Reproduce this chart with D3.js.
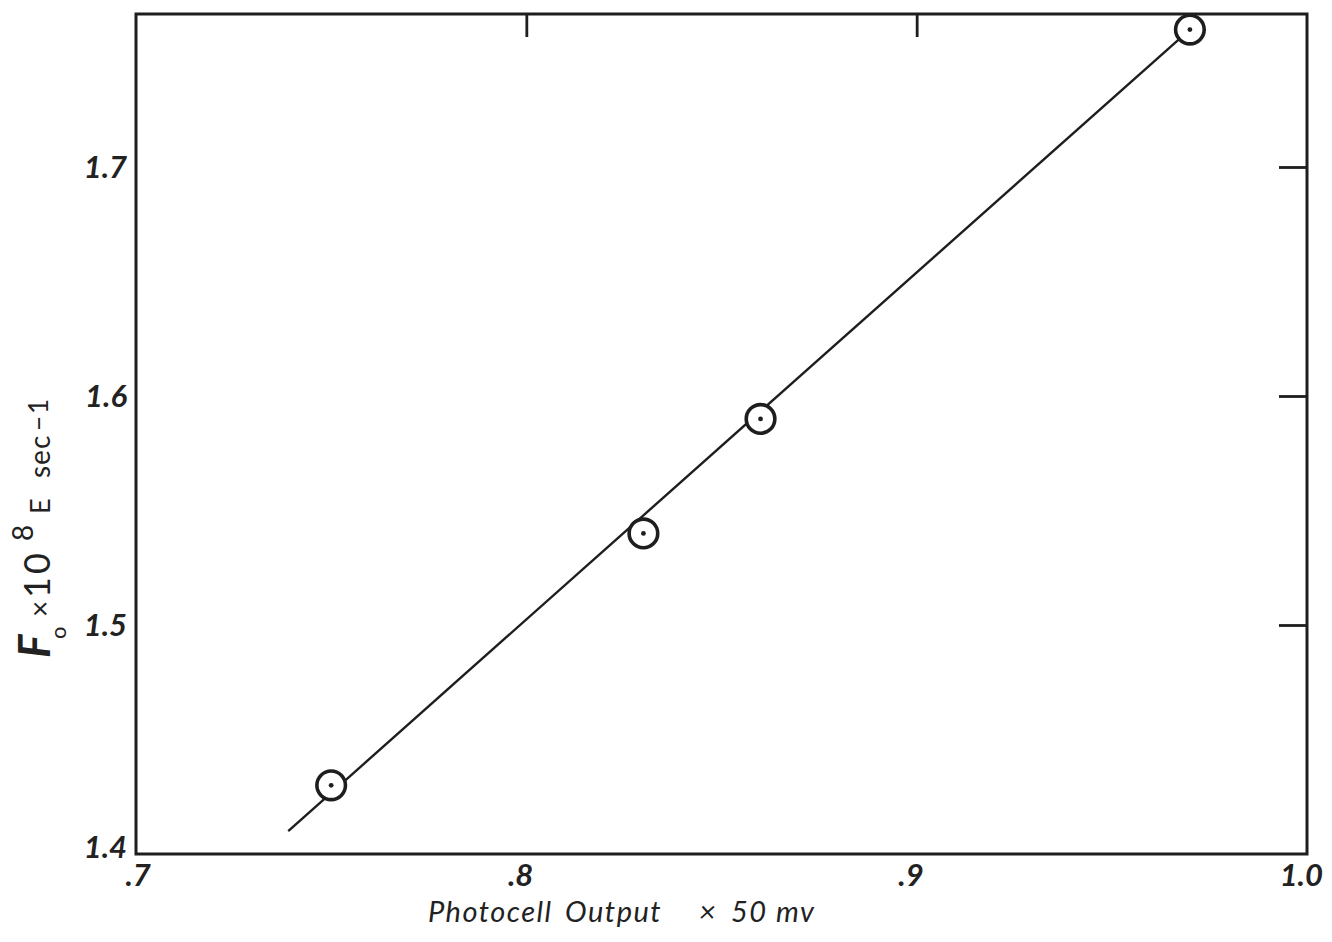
<!DOCTYPE html>
<html>
<head>
<meta charset="utf-8">
<script src="https://cdn.jsdelivr.net/npm/d3@7"></script>
<style>
  html, body { margin: 0; padding: 0; background: #ffffff; }
  svg { display: block; }
  .lbl { font-family: Lato, "Open Sans", sans-serif; font-style: italic; fill: #222; }
</style>
</head>
<body>
<svg id="chart" width="1332" height="942"></svg>
<script>
// Photocell calibration: photon flux F0 vs photocell output
const photocellOutput = [0.75, 0.83, 0.86, 0.97];
const fluxValues = [1.43, 1.54, 1.59, 1.76];
const fitLineX = [0.739, 0.97];
const fitLineY = [1.41, 1.76];
const xTickLabels = [".7", ".8", ".9", "1.0"];
const xTickValues = [0.7, 0.8, 0.9, 1.0];
const yTickLabels = ["1.4", "1.5", "1.6", "1.7"];
const yTickValues = [1.4, 1.5, 1.6, 1.7];

const svg = d3.select("#chart");
const plotLeft = 136, plotRight = 1307, plotTop = 14, plotBottom = 854;
const ink = "#1e1e1e";

const x = d3.scaleLinear().domain([0.7, 1.0]).range([plotLeft, plotRight]);
const y = d3.scaleLinear().domain([1.4, 1.4 + (plotBottom - plotTop) / 2290]).range([plotBottom, plotTop]);

// frame
svg.append("rect")
  .attr("x", plotLeft).attr("y", plotTop)
  .attr("width", plotRight - plotLeft).attr("height", plotBottom - plotTop)
  .attr("fill", "none").attr("stroke", ink).attr("stroke-width", 3);

// inward ticks on the top edge
const topAxis = svg.append("g").attr("transform", `translate(0,${plotTop})`)
  .call(d3.axisTop(x).tickValues([0.8, 0.9]).tickSize(-23).tickFormat(""));
topAxis.select(".domain").remove();
topAxis.selectAll("line").attr("stroke", ink).attr("stroke-width", 2.8);

// inward ticks on the right edge
const rightAxis = svg.append("g").attr("transform", `translate(${plotRight},0)`)
  .call(d3.axisRight(y).tickValues([1.5, 1.6, 1.7]).tickSize(-28).tickFormat(""));
rightAxis.select(".domain").remove();
rightAxis.selectAll("line").attr("stroke", ink).attr("stroke-width", 2.8);

// y tick labels
const yAxis = svg.append("g").attr("transform", `translate(${plotLeft},0)`)
  .call(d3.axisLeft(y).tickValues(yTickValues).tickSize(0).tickPadding(9)
    .tickFormat((d, i) => yTickLabels[i]));
yAxis.select(".domain").remove();
yAxis.selectAll("text").attr("class", "lbl")
  .style("font-size", "31px").style("font-weight", "bold")
  .attr("dy", (d, i) => i === 0 ? "0.12em" : "0.35em");

// x tick labels
const xAxis = svg.append("g").attr("transform", `translate(0,${plotBottom})`)
  .call(d3.axisBottom(x).tickValues(xTickValues).tickSize(0).tickPadding(10)
    .tickFormat((d, i) => xTickLabels[i]));
xAxis.select(".domain").remove();
xAxis.selectAll("text").attr("class", "lbl")
  .style("font-size", "31px").style("font-weight", "bold")
  .attr("dx", (d, i) => i === 0 ? "0.05em" : "-0.2em");

// fitted line
svg.append("line")
  .attr("x1", x(fitLineX[0])).attr("y1", y(fitLineY[0]))
  .attr("x2", x(fitLineX[1])).attr("y2", y(fitLineY[1]))
  .attr("stroke", ink).attr("stroke-width", 2.4);

// data points: open circle with centre dot
const pts = svg.append("g").selectAll("g")
  .data(photocellOutput.map((v, i) => [v, fluxValues[i]]))
  .join("g")
  .attr("transform", d => `translate(${x(d[0])},${y(d[1])})`);
pts.append("circle").attr("r", 14.3).attr("fill", "#fff")
  .attr("stroke", ink).attr("stroke-width", 3.6);
pts.append("circle").attr("r", 2.4).attr("fill", ink);

// x axis title, words set apart
const xt = svg.append("text").attr("class", "lbl")
  .attr("y", 922).style("font-size", "29px").style("letter-spacing", "1.5px");
[["Photocell", 428], ["Output", 565], ["×", 699], ["50 mv", 731]].forEach(([w, px]) =>
  xt.append("tspan").attr("x", px).text(w));

// y axis title: F_o × 10^8 E sec^-1 (offsets measured along the rotated baseline)
const yt = svg.append("text").attr("class", "lbl")
  .attr("transform", "translate(50,658) rotate(-90)");
const yParts = [
  { t: "F",   at: 0,   dy: 0,   size: 44, italic: true, bold: true },
  { t: "o",   at: 19,  dy: 16,  size: 22 },
  { t: "×",   at: 41,  dy: -16, size: 28 },
  { t: "10",  at: 60,  dy: 0,   size: 36, ls: 3 },
  { t: "8",   at: 117, dy: -17, size: 28 },
  { t: "E",   at: 144, dy: 17,  size: 27 },
  { t: "sec", at: 180, dy: 0,   size: 28, ls: 1 },
  { t: "−1",  at: 227, dy: -2,  size: 26, ls: 2 }
];
yParts.forEach(p => {
  yt.append("tspan")
    .attr("x", p.at).attr("dy", p.dy)
    .style("font-size", p.size + "px")
    .style("font-style", p.italic ? "italic" : "normal")
    .style("font-weight", p.bold ? "bold" : "normal")
    .style("letter-spacing", (p.ls || 0) + "px")
    .text(p.t);
});
</script>
</body>
</html>
